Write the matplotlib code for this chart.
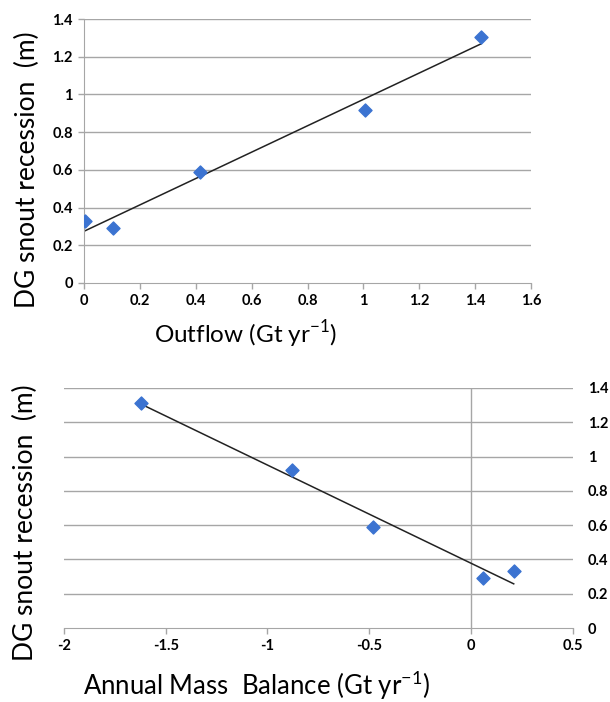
import numpy as np
import matplotlib.pyplot as plt

# top panel: outflow vs snout recession
outflow = [0.005, 0.105, 0.415, 1.005, 1.42]
recession_top = [0.33, 0.29, 0.59, 0.92, 1.305]

# bottom panel: annual mass balance vs snout recession
mass_balance = [-1.62, -0.88, -0.48, 0.06, 0.21]
recession_bot = [1.31, 0.92, 0.59, 0.29, 0.33]

y_ticks = [0, 0.2, 0.4, 0.6, 0.8, 1.0, 1.2, 1.4]
y_ticklabels = ["0", "0.2", "0.4", "0.6", "0.8", "1", "1.2", "1.4"]
x_ticks_top = [0, 0.2, 0.4, 0.6, 0.8, 1.0, 1.2, 1.4, 1.6]
x_ticklabels_top = ["0", "0.2", "0.4", "0.6", "0.8", "1", "1.2", "1.4", "1.6"]
x_ticks_bot = [-2, -1.5, -1, -0.5, 0, 0.5]
x_ticklabels_bot = ["-2", "-1.5", "-1", "-0.5", "0", "0.5"]

plt.rcParams['font.family'] = ['Lato', 'DejaVu Sans']

marker_col = '#3b73d1'
grid_col = '#a6a6a6'
tick_fs = 10.5
label_fs = 19

fig = plt.figure(figsize=(6.1, 7.02), dpi=100)
W, H = 610, 702

# ---- top chart
ax1 = fig.add_axes([0.1377, 0.5969, 0.733, 0.376])
ax1.set_xlim(0, 1.6)
ax1.set_ylim(0, 1.4)
for yv in y_ticks[1:]:
    ax1.axhline(yv, color=grid_col, lw=1.0, zorder=1)
ax1.scatter(outflow, recession_top, marker='D', s=44, color=marker_col, zorder=3)
k, b = np.polyfit(outflow, recession_top, 1)
xs = np.array([0, max(outflow)])
ax1.plot(xs, k * xs + b, color='#222222', lw=1.1, zorder=2)
ax1.set_xticks(x_ticks_top)
ax1.set_xticklabels(x_ticklabels_top, fontweight='bold', fontsize=tick_fs)
ax1.set_yticks(y_ticks)
ax1.set_yticklabels(y_ticklabels, fontweight='bold', fontsize=tick_fs)
for s in ['top', 'right']:
    ax1.spines[s].set_visible(False)
for s in ['left', 'bottom']:
    ax1.spines[s].set_color(grid_col)
ax1.tick_params(color=grid_col, length=4, width=1, pad=4)

fig.text(246 / W, 1 - 334 / H, "Outflow (Gt yr$^{\\mathregular{-1}}$)",
         fontsize=17.5, ha='center', va='center')
fig.text(27 / W, 1 - 170 / H, "DG snout recession  (m)",
         fontsize=label_fs, ha='center', va='center', rotation=90)

# ---- bottom chart
ax2 = fig.add_axes([0.1049, 0.1054, 0.834, 0.342])
ax2.set_xlim(-2, 0.5)
ax2.set_ylim(0, 1.4)
for yv in y_ticks[1:]:
    ax2.axhline(yv, color=grid_col, lw=1.0, zorder=1)
ax2.axvline(0, color=grid_col, lw=1.0, zorder=1)
ax2.scatter(mass_balance, recession_bot, marker='D', s=44, color=marker_col, zorder=3)
k2, b2 = np.polyfit(mass_balance, recession_bot, 1)
xs2 = np.array([min(mass_balance), max(mass_balance)])
ax2.plot(xs2, k2 * xs2 + b2, color='#222222', lw=1.1, zorder=2)
ax2.set_xticks(x_ticks_bot)
ax2.set_xticklabels(x_ticklabels_bot, fontweight='bold', fontsize=tick_fs)
ax2.yaxis.tick_right()
ax2.set_yticks(y_ticks)
ax2.set_yticklabels(y_ticklabels, fontweight='bold', fontsize=tick_fs)
ax2.tick_params(axis='y', length=0, pad=11)
ax2.tick_params(axis='x', color=grid_col, length=4, width=1, pad=4)
for s in ['top', 'right', 'left']:
    ax2.spines[s].set_visible(False)
ax2.spines['bottom'].set_color(grid_col)

fig.text(257 / W, 1 - 685 / H, "Annual Mass  Balance (Gt yr$^{\\mathregular{-1}}$)",
         fontsize=18.5, ha='center', va='center')
fig.text(25 / W, 1 - 523 / H, "DG snout recession  (m)",
         fontsize=label_fs, ha='center', va='center', rotation=90)

fig.savefig("out.png", dpi=100)
